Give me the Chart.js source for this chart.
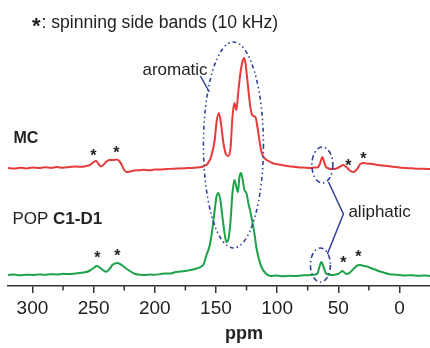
<!DOCTYPE html>
<html>
<head>
<meta charset="utf-8">
<script src="https://cdn.jsdelivr.net/npm/chart.js@4.4.1/dist/chart.umd.min.js"></script>
<style>
html,body{margin:0;padding:0;background:#fff;}
canvas{display:block;}
</style>
</head>
<body>
<canvas id="c" width="430" height="348"></canvas>
<script>
// ---- Data (ppm, intensity in arbitrary stacked units) ----
const tickLabels = [300, 250, 200, 150, 100, 50, 0];
const minorTicks = [275, 225, 175, 125, 75, 25];

const mcPpm = [320,315,310,305,300,295,290,285,280,275,270,265,260,256,253,250,248,246,244,242,240,237,234,231,229,227,225,223,220,217,213,209,205,200,195,190,185,180,175,170,165,162,160,157,154,151,149.6,147.6,145.5,143.9,141.5,139.8,138,136.5,134.9,133.3,131.6,130,128.4,127.1,125.9,124.3,122.6,121,119.4,117.7,116.1,114.5,112.8,110.4,107,104,101,97,93,89,85,81,77,73,69,67,65.4,64,63,62,60.5,58,55,52,49,46,43,40.5,38.4,36,34,32,29,26,22,18,14,10,5,0,-5,-10,-15,-20,-25];
const mcValues = [118,117.4,118.3,117.6,118.5,117.9,118.7,118.1,118.9,118.3,119.1,119.4,119.2,120,121,124,125,122,119.5,121,124,126,126,126.5,125,121,116,114,114.5,115.6,115.8,116.3,115.8,116.4,116.5,117,117.2,117.5,117.8,118.1,118.6,119,120,122,129,146,163,173,159,143,131,130,139,169,183,176,196,213,224,228,223,206,186,173,170,169,159,146,134,128,125,123,122,121.2,120.3,119.6,119,118.6,118.3,118,118.4,118.5,121,126,129,126,120,117.5,117,117.3,119,121,118.5,115.5,114,115,118,122,123,122.3,122,121,120.4,120,119.2,118.4,118,117.7,117.3,117.2,117];

const popPpm = [320,315,310,305,300,295,290,285,280,275,270,265,260,256,253,250,247.7,245,242.5,239.6,237,234.7,232.5,230.6,228.5,226.5,224,221.6,219,216,212,208,204,200,195.4,190,187,183,179,175,171,167,162.7,160,158,155,153,151,149.6,148,146.4,144.7,143,141.5,139.8,138.2,136.5,134.9,133.3,132,130.8,129.5,128.4,126.7,125.1,123.5,121.8,120.2,118.6,117,115.3,112.8,109.6,105.5,100,95,90,85,80,75,70,67,65.4,63.8,62,60,57,54.8,52,50,48,46.6,45,43.3,41.5,40,38,36,34.5,32.7,30.5,28.6,26,23.7,20,17,13,9,5,0,-5,-10,-15,-20,-25];
const popValues = [11,11.4,10.8,11.3,11,11.6,11.2,11.8,11.5,12.2,12,12.6,13.2,14,15.5,18,20,18.5,16,14.3,17,21,22.5,23,22,20.5,18,16,14,12,11.3,11,11.4,11.2,12,12.6,12.4,14,14.4,15,16,17,19,22,30,41,56,76,89,93,86,69,53,44,47,63,93,106,99,94,109,113,108,96,93,83,74,64,53,39,29,19,13,10,10.4,9.8,10.3,9.9,10.5,10.8,11.3,12.5,19,24,19,12.5,11.2,11,11.6,12,14,15,13.5,12,12.6,14,16.5,19,20.5,21,20.6,20,19.2,18,16.5,15,13.5,12,11.5,11,10.6,10.8,10.3,10.4,10];

// ---- Annotations, anchored in data coordinates ----
const ellipses = [
  {ppm: 135.7, v: 141, rx: 30, ry: 103, dash: [4,3,1.5,3,1.5,3]},
  {ppm: 63, v: 121, rx: 10.5, ry: 18, dash: [5,3,1.5,3]},
  {ppm: 64.6, v: 21, rx: 10, ry: 17, dash: [5,3,1.5,3]}
];
const pointerLines = [
  [[162.7, 210], [155.4, 194]],
  [[58, 104], [45.8, 72], [58.9, 32]]
];
const sidebandStars = [
  [250.2, 134], [231.4, 137], [41.7, 124], [29.4, 131],
  [246.9, 32], [230.6, 34], [45.8, 27], [33.5, 33]
];
const labels = [
  {ppm: 210.1, v: 211, text: 'aromatic'},
  {ppm: 41.7, v: 69, text: 'aliphatic'}
];

const RED = '#e63b3b', GREEN = '#1ea24a', BLUE = '#32419a';
const FONT = '"Liberation Sans", Arial, sans-serif';

const annotate = {
  id: 'annotate',
  afterDraw(chart) {
    const ctx = chart.ctx, xs = chart.scales.x, ys = chart.scales.y;
    const px = p => xs.getPixelForValue(p), py = v => ys.getPixelForValue(v);
    const axisY = chart.chartArea.bottom;
    ctx.save();
    // minor ticks
    ctx.strokeStyle = '#333'; ctx.lineWidth = 1.5;
    minorTicks.forEach(t => {
      const x = px(t);
      ctx.beginPath(); ctx.moveTo(x, axisY); ctx.lineTo(x, axisY + 4.5); ctx.stroke();
    });
    // ellipses
    ctx.strokeStyle = BLUE; ctx.lineWidth = 1.6;
    ellipses.forEach(e => {
      ctx.setLineDash(e.dash);
      ctx.beginPath();
      ctx.ellipse(px(e.ppm), py(e.v), e.rx, e.ry, 0, 0, Math.PI * 2);
      ctx.stroke();
    });
    ctx.setLineDash([]);
    ctx.lineWidth = 1.5;
    pointerLines.forEach(pl => {
      ctx.beginPath();
      pl.forEach((p, i) => { const x = px(p[0]), y = py(p[1]); if (i) ctx.lineTo(x, y); else ctx.moveTo(x, y); });
      ctx.stroke();
    });
    // texts
    ctx.fillStyle = '#222';
    ctx.textBaseline = 'alphabetic';
    ctx.textAlign = 'left';
    ctx.font = '17px ' + FONT;
    labels.forEach(l => ctx.fillText(l.text, px(l.ppm), py(l.v)));
    // sample names
    ctx.font = 'bold 16px ' + FONT;
    ctx.fillText('MC', px(315.6), py(143));
    ctx.font = '17px ' + FONT;
    const popX = px(316.4), popY = py(62);
    ctx.fillText('POP ', popX, popY);
    const w = ctx.measureText('POP ').width;
    ctx.font = 'bold 17px ' + FONT;
    ctx.fillText('C1-D1', popX + w, popY);
    // side band stars
    ctx.textAlign = 'center';
    ctx.font = 'bold 16px ' + FONT;
    sidebandStars.forEach(s => ctx.fillText('*', px(s[0]), py(s[1]) + 9));
    // legend line
    ctx.font = 'bold 22px ' + FONT;
    ctx.fillText('*', px(296.8), py(266) + 12.5);
    ctx.textAlign = 'left';
    ctx.font = '17.6px ' + FONT;
    ctx.fillText(': spinning side bands (10 kHz)', px(292.7), py(258));
    // axis title
    ctx.textAlign = 'center';
    ctx.font = 'bold 18px ' + FONT;
    ctx.fillText('ppm', px(127), 339);
    ctx.restore();
  }
};

const toPts = (xs, ys) => xs.map((x, i) => ({x, y: ys[i]}));

new Chart(document.getElementById('c'), {
  type: 'line',
  data: {
    datasets: [
      {label: 'MC', data: toPts(mcPpm, mcValues), borderColor: RED, borderWidth: 2, pointRadius: 0, cubicInterpolationMode: 'monotone'},
      {label: 'POP C1-D1', data: toPts(popPpm, popValues), borderColor: GREEN, borderWidth: 2, pointRadius: 0, cubicInterpolationMode: 'monotone'}
    ]
  },
  options: {
    responsive: false,
    animation: false,
    devicePixelRatio: 1,
    layout: {padding: {left: 8, right: 0, top: 0, bottom: 0}},
    plugins: {legend: {display: false}, tooltip: {enabled: false}},
    scales: {
      x: {
        type: 'linear', reverse: true, min: -25, max: 320,
        afterBuildTicks: s => { s.ticks = tickLabels.map(v => ({value: v})); },
        afterFit: s => { s.height = 62; },
        grid: {display: true, drawOnChartArea: false, drawTicks: true, tickLength: 7, color: '#333', lineWidth: 1.5},
        border: {display: true, color: '#333', width: 1.5},
        ticks: {font: {family: FONT, size: 19}, color: '#222', padding: 4, maxRotation: 0, autoSkip: false}
      },
      y: {display: false, min: 0, max: 286}
    }
  },
  plugins: [annotate]
});
</script>
</body>
</html>
